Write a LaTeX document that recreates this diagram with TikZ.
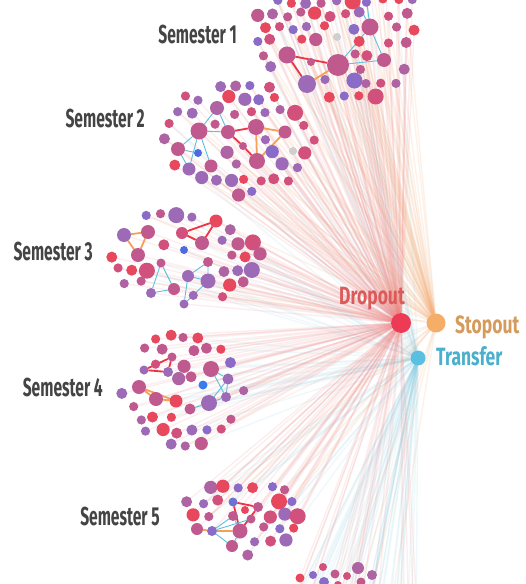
\documentclass[tikz,border=0pt]{standalone}
\usepackage{fontspec}
\usepackage{graphicx}
\newfontfamily\semfont[FakeStretch=0.6]{Fira Sans}
\newfontfamily\outfont[FakeStretch=0.7]{Fira Sans}

% dot palette
\definecolor{cRed}{HTML}{E8485E}
\definecolor{cRose}{HTML}{D2507C}
\definecolor{cMag}{HTML}{C05A8E}
\definecolor{cMau}{HTML}{AE64A2}
\definecolor{cPur}{HTML}{9C6AB6}
\definecolor{cViolet}{HTML}{8A6CC8}
\definecolor{cBlueV}{HTML}{6E72D6}
\definecolor{cBlue}{HTML}{4A6CE0}
\definecolor{cBlueB}{HTML}{3A7CEE}
\definecolor{cGray}{HTML}{CFCFCF}
% outcomes
\definecolor{dropC}{HTML}{EE3B55}
\definecolor{stopC}{HTML}{F5AE68}
\definecolor{transC}{HTML}{5BC0E0}
\definecolor{dropT}{HTML}{DD5A5A}
\definecolor{stopT}{HTML}{D49B5C}
\definecolor{transT}{HTML}{4BB0CC}
\definecolor{labelgray}{HTML}{444444}
% links and rays
\definecolor{linkR}{HTML}{EE3344}
\definecolor{linkO}{HTML}{F5A055}
\definecolor{linkB}{HTML}{5CC0E0}
\definecolor{fanR}{HTML}{F08A8A}
\definecolor{fanO}{HTML}{F6B07A}
\definecolor{fanB}{HTML}{8ACFE6}

\pgfdeclarelayer{bg}
\pgfdeclarelayer{fans}
\pgfdeclarelayer{links}
\pgfsetlayers{bg,fans,links,main}

\tikzset{
  dot/.style={circle, inner sep=0pt, outer sep=0pt, draw=none},
  fanred/.style={draw=fanR, line width=1.4pt, opacity=0.14},
  fanorange/.style={draw=fanO, line width=1.4pt, opacity=0.17},
  fanblue/.style={draw=fanB, line width=1.4pt, opacity=0.13},
  linkred/.style={draw=linkR, line width=1.8pt},
  linkorange/.style={draw=linkO, line width=1.8pt},
  linkblue/.style={draw=linkB, line width=0.9pt},
  semlabel/.style={font=\semfont\bfseries\fontsize{26}{26}\selectfont, text=labelgray, anchor=base east, inner sep=0pt},
  outlabel/.style={font=\outfont\bfseries\fontsize{25}{25}\selectfont, anchor=base west, inner sep=0pt},
}

\newcount\dotcount
\newtoks\fantoks
\def\probR{1}
\def\probO{0.2}
\def\probB{0.2}

% queue one faint ray: #1 style, #2 from node, #3 to node
\newcommand\queuefan[3]{%
  \edef\fantmp{\the\fantoks\noexpand\draw[#1] (#2) -- (#3);}%
  \global\fantoks\expandafter{\fantmp}}

% one student dot, with its rays to the outcome nodes queued
\newcommand\placedot[5]{%
  \node[dot, minimum size=2*#4, fill=#5] (#1) at (#2,#3) {};
  \pgfmathsetmacro\rv{rnd}%
  \ifdim\rv pt<\probR pt \queuefan{fanred}{#1}{dropout}\fi
  \pgfmathsetmacro\rv{rnd}%
  \ifdim\rv pt<\probO pt \queuefan{fanorange}{#1}{stopout}\fi
  \pgfmathsetmacro\rv{rnd}%
  \ifdim\rv pt<\probB pt \queuefan{fanblue}{#1}{transfer}\fi
}

% a semester cluster: #1 tag, #2 cx, #3 cy, #4 rx, #5 ry, #6 lowest y kept,
% #7 fixed dots name/x/y/r/colour
\newcommand\cluster[7]{%
  \foreach \pn/\px/\py/\pr/\pc in {#7} {\placedot{\pn}{\px}{\py}{\pr}{\pc}}%
  \foreach \i in {-6,...,6}{%
    \foreach \j in {-6,...,6}{%
      \pgfmathsetmacro\gx{#2+15*\i+7.5*mod(abs(\j),2)+2.5*rand}%
      \pgfmathsetmacro\gy{#3+13.5*\j+2.5*rand}%
      \pgfmathsetmacro\inval{((\gx-#2)/#4)^2+((\gy-#3)/#5)^2}%
      \ifdim\inval pt<1pt
       \ifdim\gy pt>#6pt
        \gdef\mdist{999}%
        \foreach \pn/\px/\py/\pr/\pc in {#7} {%
          \pgfmathsetmacro\ddist{veclen(\gx-\px,\gy-\py)-\pr}%
          \ifdim\ddist pt<\mdist pt \xdef\mdist{\ddist}\fi}%
        \ifdim\mdist pt>7.5pt
          \pgfmathsetmacro\rv{rnd}%
          \ifdim\rv pt>0.04pt
            \pgfmathrandominteger\ri{1}{20}%
            \ifnum\ri<11 \def\dotrad{4.6}\else\ifnum\ri<17 \def\dotrad{5.5}\else\ifnum\ri<20 \def\dotrad{6.6}\else\def\dotrad{8}\fi\fi\fi
            \pgfmathrandominteger\ci{1}{10}%
            \ifcase\ci\or\def\dotcol{cRed}\or\def\dotcol{cRed}\or\def\dotcol{cRose}\or\def\dotcol{cRose}\or\def\dotcol{cMag}\or\def\dotcol{cMag}\or\def\dotcol{cMau}\or\def\dotcol{cPur}\or\def\dotcol{cPur}\or\def\dotcol{cViolet}\fi
            \global\advance\dotcount by 1
            \placedot{#1g\the\dotcount}{\gx}{\gy}{\dotrad}{\dotcol}%
          \fi
        \fi
       \fi
      \fi
    }}}

\begin{document}
\begin{tikzpicture}[x=1pt,y=-1pt]
\pgfmathsetseed{7}
\useasboundingbox (0,0) rectangle (526,584);
\begin{pgfonlayer}{bg}
  \fill[white] (0,0) rectangle (526,584);
\end{pgfonlayer}

% outcome nodes
\node[dot, minimum size=20pt, fill=dropC] (dropout) at (401,323) {};
\node[dot, minimum size=19pt, fill=stopC] (stopout) at (436,323) {};
\node[dot, minimum size=15pt, fill=transC] (transfer) at (418,358) {};
\node[outlabel, text=dropT] (droplab) at (339,304) {Dropout};
\node[outlabel, text=stopT] (stoplab) at (455,333) {Stopout};
\node[outlabel, text=transT] (translab) at (436,365) {Transfer};

% semester labels
\node[semlabel] (sem1) at (237,43) {Semester 1};
\node[semlabel] (sem2) at (145,127) {Semester 2};
\node[semlabel] (sem3) at (93,260) {Semester 3};
\node[semlabel] (sem4) at (103,396) {Semester 4};
\node[semlabel] (sem5) at (160,525) {Semester 5};

% semester 1
\def\probO{0.55}\def\probB{0.12}
\cluster{s1}{338}{28}{82}{80}{-30}{a1/338/65/11/cMag, a2/287/55/8.5/cMag, a3/307/84/9/cPur,
  a4/370/27/8.5/cMag, a5/384/60/7/cMag, a6/311/62/4/cMag, a7/337/37/4/cGray}
% semester 2
\def\probO{0.3}\def\probB{0.15}
\cluster{s2}{237}{139}{80}{57}{-30}{b1/199/131/8.5/cMag, b2/217/108/7/cMau, b3/228/132/7/cMag,
  b4/178/149/7/cMag, b5/189/169/6.5/cPur, b6/211/166/6.5/cMag, b7/198/153/4/cBlue,
  b8/256/127/8/cMag, b9/285/132/6.5/cMag, b10/257/161/8/cMag, b11/243/146/4/cMag,
  b12/293/151/4/cGray}
% semester 3
\def\probO{0.15}\def\probB{0.25}
\cluster{s3}{185}{256}{80}{51}{-30}{c1/124/235/7/cPur, c2/148/232/7/cMag, c3/138/255/7/cMag,
  c4/182/233/6/cRose, c5/216/221/6.5/cRed, c6/202/243/7/cMag, c7/161/263/4.5/cMag,
  c8/151/293/5/cPur, c9/174/289/6/cMag, c10/188/276/6/cPur, c11/208/281/7.5/cPur,
  c12/208/262/5/cMag, c13/184/304/4.5/cPur, c14/184/250/4/cBlue}
% semester 4
\def\probO{0.08}\def\probB{0.3}
\cluster{s4}{184}{391}{64}{58}{-30}{d1/144/370/4.5/cPur, d2/172/357/4.5/cMag, d3/168/372/5/cPur,
  d4/139/387/7/cMag, d5/156/399/7/cMag, d6/176/401/6.5/cRed, d7/211/369/8/cMag,
  d8/228/379/5.5/cPur, d9/226/397/5/cPur, d10/209/403/8/cPur, d11/190/409/5.5/cMag,
  d12/203/385/4.5/cBlueB}
% semester 5
\def\probO{0.08}\def\probB{0.4}
\cluster{s5}{240}{515}{58}{42}{-30}{e1/233/502/4.5/cBlueV, e2/245/510/4/cRed, e3/258/507/5/cMag,
  e4/212/531/5/cViolet, e5/240/531/7.5/cMag, e6/232/546/6/cMag, e7/251/519/4.5/cMag,
  e8/233/516/5/cMag, e9/197/529/6/cMag}
% semester 6: only its top edge is inside the frame
\def\probR{0.3}\def\probO{0.03}\def\probB{0.5}
\cluster{s6}{350}{640}{72}{72}{592}{f1/300/578/4.5/cRed, f2/313/575/4/cViolet, f3/323/567/4/cRose,
  f4/335/574/4.5/cMag, f5/347/576/4/cRose, f6/358/568/6/cMau, f7/372/575/5/cMau,
  f8/324/582/5/cViolet, f9/361/582/4.5/cMag, f10/338/585/4/cRose}

\coordinate (t1) at (354,-4);
\coordinate (t2) at (366,-4);

% faint rays from every student to the outcomes
\begin{pgfonlayer}{fans}
  \the\fantoks
\end{pgfonlayer}

% links inside the semesters
\begin{pgfonlayer}{links}
  \draw[linkred] (a2) -- (a1) (a2) -- (a3);
  \draw[linkorange] (a3) -- (a1);
  \draw[linkblue] (a1) -- (a4) (a1) -- (a5) (a4) -- (a5) (a4) -- (t1) (a4) -- (t2);

  \draw[linkblue] (b1) -- (b2) (b2) -- (b3) (b1) -- (b3) (b1) -- (b4) (b4) -- (b5)
    (b1) -- (b5) (b1) -- (b6) (b4) -- (b7);
  \draw[linkred] (b3) -- (b8) (b3) -- (b11) (b11) -- (b10);
  \draw[linkorange] (b8) -- (b10) (b8) -- (b9) (b9) -- (b10);

  \draw[linkorange] (c1) -- (c2) (c1) -- (c3) (c2) -- (c3);
  \draw[linkred] (c4) -- (c5) (c5) -- (c6) (c4) -- (c6);
  \draw[linkblue] (c7) -- (c8) (c7) -- (c9) (c8) -- (c9)
    (c10) -- (c11) (c11) -- (c12) (c10) -- (c12) (c10) -- (c13) (c11) -- (c13);

  \draw[linkred] (d1) -- (d2) (d2) -- (d3) (d1) -- (d3);
  \draw[linkorange] (d4) -- (d5) (d5) -- (d6) (d4) -- (d6);
  \draw[linkblue] (d7) -- (d8) (d8) -- (d9) (d7) -- (d9) (d9) -- (d10) (d8) -- (d10) (d10) -- (d11);

  \draw[linkred] (e1) -- (e3) (e3) -- (e5) (e1) -- (e5);
  \draw[linkorange] (e9) -- (e4) (e4) -- (e5);
  \draw[linkblue] (e4) -- (e8) (e4) -- (e6) (e4) -- (e7) (e8) -- (e5) (e6) -- (e5);
\end{pgfonlayer}
\end{tikzpicture}
\end{document}
